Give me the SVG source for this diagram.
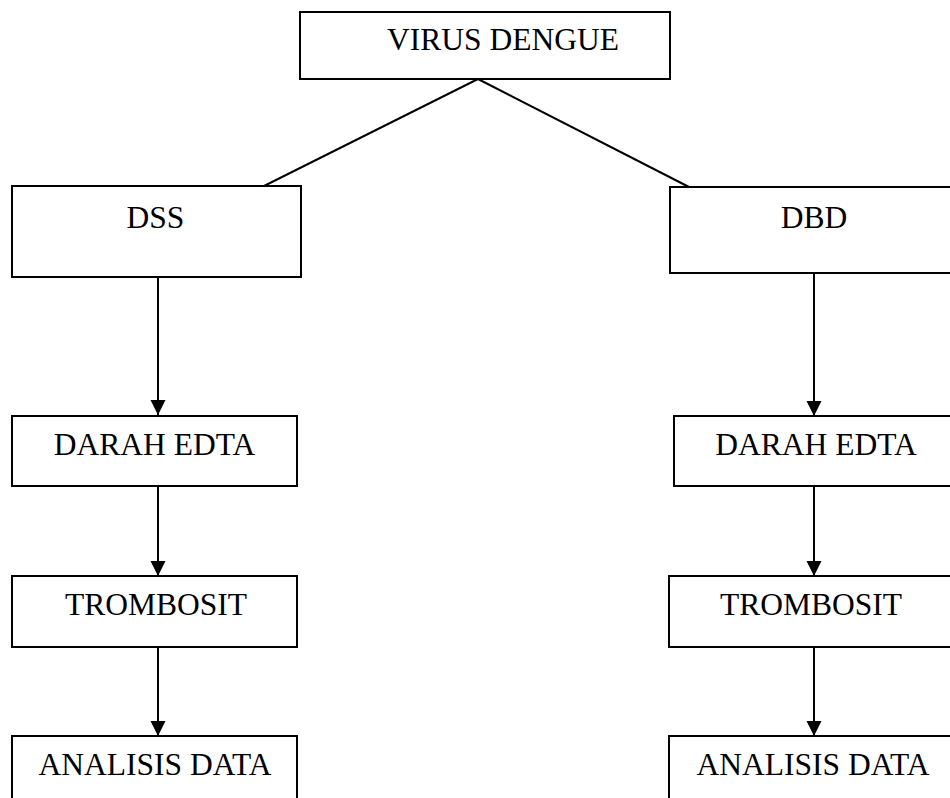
<svg xmlns="http://www.w3.org/2000/svg" width="950" height="798" viewBox="0 0 950 798">
<style>
.box{fill:#fff;stroke:#000;stroke-width:2}
.lbl{font-family:"Liberation Serif","Times New Roman",serif;font-size:31.5px;fill:#000;text-anchor:middle}
.con{stroke:#000;stroke-width:2;fill:none}
</style>
<defs>
<marker id="ah" markerUnits="userSpaceOnUse" markerWidth="16" markerHeight="16" refX="15" refY="8" orient="auto">
<path d="M0,0.5 L15,8 L0,15.5 Z" fill="#000"/>
</marker>
</defs>
<rect width="950" height="798" fill="#fff"/>
<g id="connectors">
<line class="con" x1="478" y1="79" x2="264" y2="186"/>
<line class="con" x1="478" y1="79" x2="689" y2="187"/>
<line class="con" x1="158" y1="277" x2="158" y2="415" marker-end="url(#ah)"/>
<line class="con" x1="158" y1="486" x2="158" y2="576" marker-end="url(#ah)"/>
<line class="con" x1="158" y1="647" x2="158" y2="736" marker-end="url(#ah)"/>
<line class="con" x1="814" y1="273" x2="814" y2="416" marker-end="url(#ah)"/>
<line class="con" x1="814" y1="486" x2="814" y2="576" marker-end="url(#ah)"/>
<line class="con" x1="814" y1="647" x2="814" y2="736" marker-end="url(#ah)"/>
</g>
<g id="virus-dengue"><rect class="box" x="300" y="12" width="370" height="67"/><text class="lbl" x="503" y="50">VIRUS DENGUE</text></g>
<g id="dss"><rect class="box" x="12" y="186" width="289" height="91"/><text class="lbl" x="155.5" y="228">DSS</text></g>
<g id="dbd"><rect class="box" x="670" y="187" width="300" height="86"/><text class="lbl" x="814" y="228">DBD</text></g>
<g id="darah-edta-left"><rect class="box" x="12" y="416" width="285" height="70"/><text class="lbl" x="154.5" y="455">DARAH EDTA</text></g>
<g id="darah-edta-right"><rect class="box" x="674" y="416" width="300" height="70"/><text class="lbl" x="816" y="455">DARAH EDTA</text></g>
<g id="trombosit-left"><rect class="box" x="12" y="576" width="285" height="71"/><text class="lbl" x="156" y="615">TROMBOSIT</text></g>
<g id="trombosit-right"><rect class="box" x="669" y="576" width="300" height="71"/><text class="lbl" x="811" y="615">TROMBOSIT</text></g>
<g id="analisis-left"><rect class="box" x="12" y="736" width="285" height="80"/><text class="lbl" x="155" y="775">ANALISIS DATA</text></g>
<g id="analisis-right"><rect class="box" x="669" y="736" width="300" height="80"/><text class="lbl" x="813" y="775">ANALISIS DATA</text></g>
</svg>
